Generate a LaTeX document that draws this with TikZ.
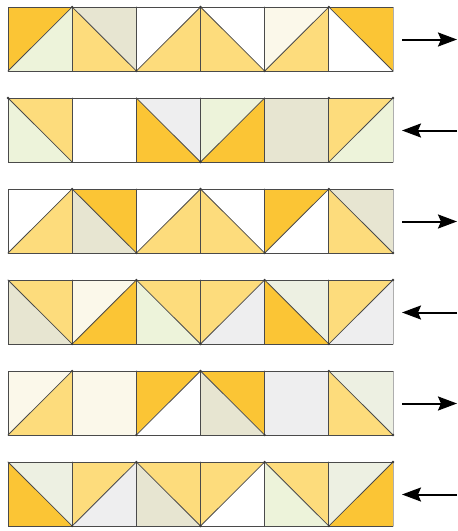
\documentclass[tikz,border=0pt]{standalone}
\usetikzlibrary{arrows.meta}
\definecolor{qcG}{HTML}{FBC535}
\definecolor{qcY}{HTML}{FDDC7C}
\definecolor{qcP}{HTML}{EDF3DA}
\definecolor{qcB}{HTML}{E7E5D1}
\definecolor{qcW}{HTML}{FFFFFF}
\definecolor{qcC}{HTML}{FBF8EA}
\definecolor{qcL}{HTML}{EEEEEF}
\definecolor{qcE}{HTML}{EDF0E2}
\definecolor{seamc}{HTML}{4A4A4A}
\tikzset{
  seam/.style={draw=seamc, line width=0.8pt, line cap=round},
  edgeline/.style={draw=seamc!45, line width=0.8pt},
  dirarrow/.style={line width=2pt, -{Stealth[length=19pt,width=14pt,inset=3pt]}},
  vdot/.style={fill=seamc!80!black}
}
\begin{document}
\begin{tikzpicture}[x=1pt,y=-1pt]
\useasboundingbox (0,0) rectangle (458,531);
\fill[white] (0,0) rectangle (458,531);
% fills and diagonals
\foreach \r/\c/\t/\A/\B in {
 0/0/1/G/P, 0/1/2/B/Y, 0/2/1/W/Y, 0/3/2/W/Y, 0/4/1/C/Y, 0/5/2/G/W,
 1/0/2/Y/P, 1/1/0/W/W, 1/2/2/L/G, 1/3/1/P/G, 1/4/0/B/B, 1/5/1/Y/P,
 2/0/1/W/Y, 2/1/2/G/B, 2/2/1/W/Y, 2/3/2/W/Y, 2/4/1/G/W, 2/5/2/B/Y,
 3/0/2/Y/B, 3/1/1/C/G, 3/2/2/Y/P, 3/3/1/Y/L, 3/4/2/E/G, 3/5/1/Y/L,
 4/0/1/C/Y, 4/1/0/C/C, 4/2/1/G/W, 4/3/2/G/B, 4/4/0/L/L, 4/5/2/E/Y,
 5/0/2/E/G, 5/1/1/Y/L, 5/2/2/Y/B, 5/3/1/Y/W, 5/4/2/Y/P, 5/5/1/E/G}{
  \pgfmathsetmacro\xa{8+64.17*\c}
  \pgfmathsetmacro\xb{\xa+64.17}
  \pgfmathsetmacro\ya{7+91*\r}
  \pgfmathsetmacro\yb{\ya+64}
  \ifnum\t=0
    \fill[fill=qc\A] (\xa,\ya) rectangle (\xb,\yb);
  \fi
  \ifnum\t=1
    \fill[fill=qc\A] (\xa,\ya) -- (\xb,\ya) -- (\xa,\yb) -- cycle;
    \fill[fill=qc\B] (\xb,\ya) -- (\xb,\yb) -- (\xa,\yb) -- cycle;
    \draw[seam] (\xa,\yb) -- (\xb,\ya);
  \fi
  \ifnum\t=2
    \fill[fill=qc\A] (\xa,\ya) -- (\xb,\ya) -- (\xb,\yb) -- cycle;
    \fill[fill=qc\B] (\xa,\ya) -- (\xb,\yb) -- (\xa,\yb) -- cycle;
    \draw[seam] (\xa,\ya) -- (\xb,\yb);
  \fi
}
% grid lines
\foreach \r in {0,...,5}{
  \pgfmathsetmacro\ya{7+91*\r}
  \pgfmathsetmacro\yb{\ya+64}
  \draw[edgeline] (393,\ya) -- (393,\yb);
  \draw[seam] (393,\ya) -- (8,\ya) -- (8,\yb) -- (393,\yb);
  \foreach \c in {1,...,5}{
    \pgfmathsetmacro\xa{8+64.17*\c}
    \draw[seam] (\xa,\ya) -- (\xa,\yb);
  }
}
% vertex dots
\foreach \r/\c/\v in {
 0/1/0,0/2/1,0/3/0,0/4/1,0/5/0,
 1/0/0,1/3/1,1/5/0,1/6/0,
 2/1/0,2/2/1,2/3/0,2/4/1,2/5/0,2/6/1,
 3/1/1,3/2/0,3/3/1,3/4/0,3/5/1,3/6/0,
 4/1/0,4/2/1,4/3/0,4/4/1,4/5/0,4/6/1,
 5/1/1,5/2/0,5/3/1,5/4/0,5/5/1,5/6/0}{
  \pgfmathsetmacro\xa{8+64.17*\c}
  \pgfmathsetmacro\ya{7+91*\r+64*\v}
  \fill[vdot] (\xa,\ya) circle (1.3pt);
}
% direction arrows
\foreach \r/\d in {0/1,1/0,2/1,3/0,4/1,5/0}{
  \pgfmathsetmacro\ym{39.5+91*\r}
  \coordinate (al\r) at (402,\ym);
  \coordinate (ar\r) at (457,\ym);
  \ifnum\d=1
    \draw[dirarrow] (al\r) -- (ar\r);
  \else
    \draw[dirarrow] (ar\r) -- (al\r);
  \fi
}
\end{tikzpicture}
\end{document}
